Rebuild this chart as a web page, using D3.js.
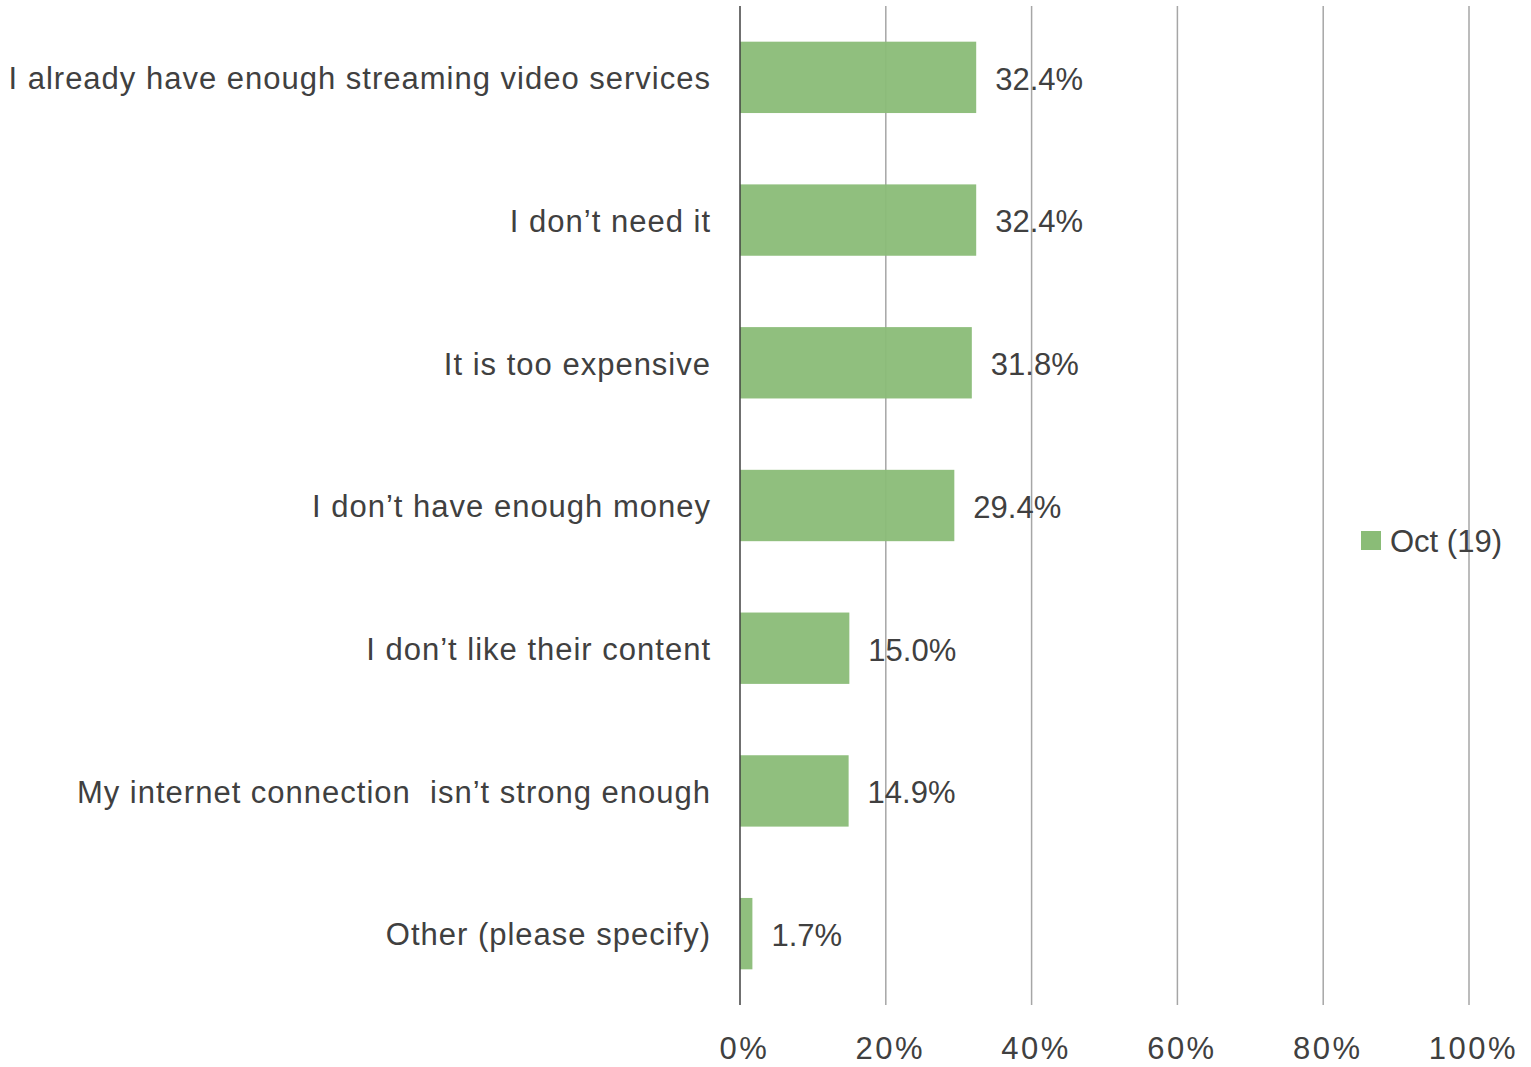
<!DOCTYPE html>
<html>
<head>
<meta charset="utf-8">
<script src="https://cdn.jsdelivr.net/npm/d3@7"></script>
<style>
    body { margin: 0; background: #fff; }
    svg text { font-family: "Liberation Sans", Arial, sans-serif; fill: #404040; }
</style>
</head>
<body>
<div id="chart"></div>
<script>
// chart values
var categories = [
    "I already have enough streaming video services",
    "I don\u2019t need it",
    "It is too expensive",
    "I don\u2019t have enough money",
    "I don\u2019t like their content",
    "My internet connection  isn\u2019t strong enough",
    "Other (please specify)"
];
var values = [32.4, 32.4, 31.8, 29.4, 15.0, 14.9, 1.7];
var xTicks = [0, 20, 40, 60, 80, 100];
var seriesName = "Oct (19)";

var svgWidth = 1531, svgHeight = 1067;
var margin = {top: 6, right: 62, bottom: 62, left: 740};
var width = svgWidth - margin.left - margin.right;
var height = svgHeight - margin.top - margin.bottom;
var barColor = "#8abc77";

var svg = d3.select("#chart").append("svg")
    .attr("width", svgWidth)
    .attr("height", svgHeight);

var x = d3.scaleLinear().domain([0, 100]).range([0, width]);
var y = d3.scaleBand().domain(categories).range([0, height])
    .paddingInner(0.5).paddingOuter(0.25);

var g = svg.append("g")
    .attr("transform", "translate(" + margin.left + "," + margin.top + ")");

// mask so that the grid lines drawn on top stay faint through the bars
var mask = svg.append("defs").append("mask").attr("id", "barMask");
mask.append("rect")
    .attr("x", -margin.left).attr("y", -margin.top)
    .attr("width", svgWidth).attr("height", svgHeight)
    .attr("fill", "#fff");
mask.selectAll("rect.cut")
    .data(values)
    .enter()
    .append("rect")
    .attr("class", "cut")
    .attr("x", 0)
    .attr("y", function (d, i) { return y(categories[i]); })
    .attr("width", function (d) { return x(d); })
    .attr("height", y.bandwidth())
    .attr("fill", "#000");

function drawGrid(sel) {
    sel.selectAll("line")
        .data(xTicks.filter(function (d) { return d > 0; }))
        .enter()
        .append("line")
        .attr("x1", function (d) { return x(d); })
        .attr("x2", function (d) { return x(d); })
        .attr("y1", 0)
        .attr("y2", height)
        .attr("stroke", "#a6a6a6")
        .attr("stroke-width", 1.5);
}

// grid below the bars
drawGrid(g.append("g").attr("class", "grid"));

// bars
g.selectAll("rect.bar")
    .data(values)
    .enter()
    .append("rect")
    .attr("class", "bar")
    .attr("x", 0)
    .attr("y", function (d, i) { return y(categories[i]); })
    .attr("width", function (d) { return x(d); })
    .attr("height", y.bandwidth())
    .attr("fill", barColor)
    .attr("fill-opacity", 0.95);

// value labels
g.selectAll("text.val")
    .data(values)
    .enter()
    .append("text")
    .attr("class", "val")
    .attr("x", function (d) { return x(d) + 19; })
    .attr("y", function (d, i) { return y(categories[i]) + y.bandwidth() / 2; })
    .attr("dy", "0.4em")
    .style("font-size", "31px")
    .text(function (d) { return d.toFixed(1) + "%"; });

// category labels
g.selectAll("text.cat")
    .data(categories)
    .enter()
    .append("text")
    .attr("class", "cat")
    .attr("x", -29)
    .attr("y", function (d) { return y(d) + y.bandwidth() / 2; })
    .attr("dy", "0.38em")
    .attr("text-anchor", "end")
    .style("font-size", "31px")
    .style("letter-spacing", "1px")
    .style("white-space", "pre")
    .text(function (d) { return d; });

// legend
var legend = svg.append("g")
    .attr("transform", "translate(1361,531)");
legend.append("rect")
    .attr("width", 20)
    .attr("height", 19)
    .attr("fill", barColor);
legend.append("text")
    .attr("x", 29)
    .attr("y", 10)
    .attr("dy", "0.35em")
    .style("font-size", "31px")
    .text(seriesName);

// grid again on top, masked out where the bars are
drawGrid(svg.append("g")
    .attr("mask", "url(#barMask)")
    .append("g")
    .attr("transform", "translate(" + margin.left + "," + margin.top + ")"));

// value axis line at 0
g.append("line")
    .attr("x1", x(0)).attr("x2", x(0))
    .attr("y1", 0).attr("y2", height)
    .attr("stroke", "#404040")
    .attr("stroke-width", 1.5);

// bottom tick labels
var xAxis = g.append("g")
    .attr("transform", "translate(0," + height + ")")
    .call(d3.axisBottom(x)
        .tickValues(xTicks)
        .tickSize(0)
        .tickPadding(32)
        .tickFormat(function (d) { return d + "%"; }));
xAxis.select(".domain").remove();
xAxis.selectAll("text")
    .attr("dx", "4px")
    .style("font-size", "31px")
    .style("letter-spacing", "2.5px")
    .style("fill", "#404040");
</script>
</body>
</html>
